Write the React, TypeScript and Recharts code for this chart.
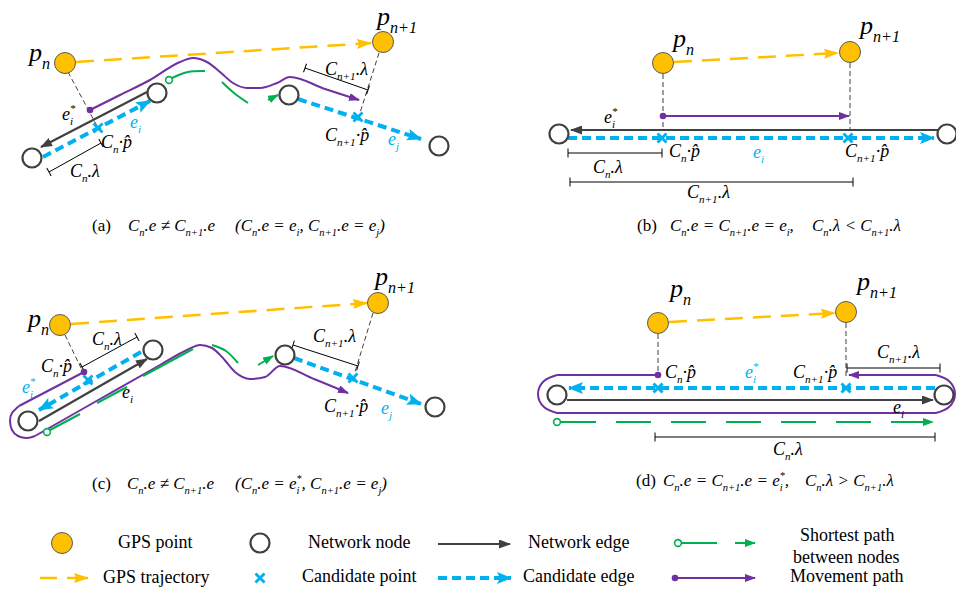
import React from "react";
import { ComposedChart, Line, Scatter, XAxis, YAxis } from "recharts";

type Pt = { x: number; y: number };
type Lbl = { x: number; y: number; text: string };

const W = 956;
const H = 593;
const FONT = '"Liberation Serif", "Times New Roman", serif';
const ORANGE = "#FFC000";
const BLUE = "#00B0F0";
const PURPLE = "#7030A0";
const GREEN = "#00B050";
const DARK = "#404040";

// ---- panel (a)
const gpsA: Pt[] = [{ x: 65, y: 63 }, { x: 383, y: 42 }];
const nodesA: Pt[] = [{ x: 32, y: 158 }, { x: 157, y: 93 }, { x: 289, y: 95 }, { x: 439, y: 146 }];
const candA: Pt[] = [{ x: 98, y: 128 }, { x: 358, y: 117 }];
const trajA: Pt[] = [{ x: 76, y: 62 }, { x: 371, y: 43 }];
const edgeA: Pt[] = [{ x: 147, y: 92 }, { x: 41, y: 147 }];
const candEdgeA1: Pt[] = [{ x: 43, y: 157 }, { x: 150, y: 101 }];
const candEdgeA2: Pt[] = [{ x: 298, y: 99 }, { x: 421, y: 139 }];
const moveA: Pt[] = [
  { x: 90, y: 110 }, { x: 120, y: 95 }, { x: 150, y: 80 }, { x: 180, y: 62 }, { x: 193, y: 58 },
  { x: 207, y: 62 }, { x: 220, y: 72 }, { x: 233, y: 83 }, { x: 247, y: 88 }, { x: 260, y: 88 },
  { x: 277, y: 83 }, { x: 290, y: 77 }, { x: 325, y: 89 }, { x: 359, y: 100 },
];
const dotA: Pt[] = [{ x: 90, y: 110 }];
const ringA: Pt[] = [{ x: 169, y: 80 }];
const shortA1: Pt[] = [{ x: 172, y: 78 }, { x: 188, y: 72 }, { x: 205, y: 71 }];
const shortA2: Pt[] = [{ x: 222, y: 82 }, { x: 234, y: 93 }, { x: 248, y: 103 }];
const shortA3: Pt[] = [{ x: 268, y: 100 }, { x: 278, y: 95 }];
const leadA1: Pt[] = [{ x: 68, y: 72 }, { x: 97, y: 126 }];
const leadA2: Pt[] = [{ x: 379, y: 53 }, { x: 359, y: 116 }];
const dimA1: Pt[] = [{ x: 49, y: 172 }, { x: 101, y: 143 }];
const dimA2: Pt[] = [{ x: 305, y: 68 }, { x: 368, y: 90 }];

// ---- panel (b)
const gpsB: Pt[] = [{ x: 663, y: 63 }, { x: 850, y: 52 }];
const nodesB: Pt[] = [{ x: 559, y: 134 }, { x: 947, y: 134 }];
const candB: Pt[] = [{ x: 662, y: 138 }, { x: 848, y: 138 }];
const trajB: Pt[] = [{ x: 674, y: 62 }, { x: 838, y: 53 }];
const edgeB: Pt[] = [{ x: 938, y: 130 }, { x: 571, y: 130 }];
const candEdgeB: Pt[] = [{ x: 568, y: 138 }, { x: 934, y: 138 }];
const moveB: Pt[] = [{ x: 663, y: 116 }, { x: 849, y: 116 }];
const dotB: Pt[] = [{ x: 663, y: 116 }];
const leadB1: Pt[] = [{ x: 663, y: 74 }, { x: 663, y: 131 }];
const leadB2: Pt[] = [{ x: 850, y: 63 }, { x: 850, y: 131 }];
const dimB1: Pt[] = [{ x: 568, y: 153 }, { x: 662, y: 153 }];
const dimB2: Pt[] = [{ x: 570, y: 182 }, { x: 853, y: 182 }];

// ---- panel (c)
const gpsC: Pt[] = [{ x: 60, y: 325 }, { x: 378, y: 303 }];
const nodesC: Pt[] = [{ x: 28, y: 421 }, { x: 153, y: 350 }, { x: 285, y: 355 }, { x: 435, y: 407 }];
const candC: Pt[] = [{ x: 88, y: 380 }, { x: 353, y: 378 }];
const trajC: Pt[] = [{ x: 71, y: 324 }, { x: 367, y: 303 }];
const edgeC: Pt[] = [{ x: 39, y: 421 }, { x: 147, y: 359 }];
const candEdgeC1: Pt[] = [{ x: 141, y: 352 }, { x: 39, y: 410 }];
const candEdgeC2: Pt[] = [{ x: 294, y: 358 }, { x: 421, y: 404 }];
const moveC1: Pt[] = [{ x: 84, y: 372 }, { x: 19, y: 406 }];
const moveC2: Pt[] = [
  { x: 19, y: 406 }, { x: 12, y: 413 }, { x: 10, y: 421 }, { x: 12, y: 430 },
  { x: 18, y: 436 }, { x: 27, y: 438 }, { x: 35, y: 436 },
];
const moveC3: Pt[] = [
  { x: 35, y: 436 }, { x: 100, y: 399 }, { x: 160, y: 365 }, { x: 187, y: 350 }, { x: 200, y: 345 },
  { x: 212, y: 348 }, { x: 222, y: 357 }, { x: 235, y: 372 }, { x: 250, y: 379 }, { x: 265, y: 377 },
  { x: 280, y: 366 }, { x: 314, y: 379 }, { x: 348, y: 393 },
];
const dotC: Pt[] = [{ x: 84, y: 372 }];
const ringC: Pt[] = [{ x: 47, y: 432 }];
const shortC1: Pt[] = [{ x: 50, y: 430 }, { x: 80, y: 414 }];
const shortC2: Pt[] = [{ x: 97, y: 403 }, { x: 127, y: 387 }];
const shortC3: Pt[] = [{ x: 143, y: 376 }, { x: 193, y: 349 }];
const shortC4: Pt[] = [{ x: 212, y: 345 }, { x: 226, y: 351 }, { x: 238, y: 363 }];
const shortC5: Pt[] = [{ x: 258, y: 365 }, { x: 273, y: 356 }];
const leadC1: Pt[] = [{ x: 65, y: 335 }, { x: 82, y: 370 }];
const leadC2: Pt[] = [{ x: 373, y: 313 }, { x: 355, y: 372 }];
const dimC1: Pt[] = [{ x: 82, y: 367 }, { x: 137, y: 337 }];
const dimC2: Pt[] = [{ x: 293, y: 345 }, { x: 358, y: 366 }];

// ---- panel (d)
const gpsD: Pt[] = [{ x: 658, y: 323 }, { x: 846, y: 312 }];
const nodesD: Pt[] = [{ x: 557, y: 395 }, { x: 944, y: 395 }];
const candD: Pt[] = [{ x: 658, y: 388 }, { x: 846, y: 388 }];
const trajD: Pt[] = [{ x: 669, y: 322 }, { x: 835, y: 313 }];
const edgeD: Pt[] = [{ x: 567, y: 400 }, { x: 933, y: 400 }];
const candEdgeD: Pt[] = [{ x: 935, y: 388 }, { x: 569, y: 388 }];
const moveD1: Pt[] = [{ x: 658, y: 375 }, { x: 557, y: 375 }];
const moveD2: Pt[] = [{ x: 557, y: 375 }, { x: 544, y: 381 }, { x: 538, y: 394 }, { x: 544, y: 407 }, { x: 557, y: 413 }];
const moveD3: Pt[] = [{ x: 557, y: 413 }, { x: 936, y: 413 }];
const moveD4: Pt[] = [{ x: 936, y: 413 }, { x: 949, y: 407 }, { x: 955, y: 394 }, { x: 949, y: 381 }, { x: 936, y: 375 }];
const moveD5: Pt[] = [{ x: 936, y: 375 }, { x: 849, y: 375 }];
const dotD: Pt[] = [{ x: 658, y: 375 }];
const ringD: Pt[] = [{ x: 557, y: 422 }];
const shortD: Pt[] = [{ x: 561, y: 422 }, { x: 933, y: 422 }];
const leadD1: Pt[] = [{ x: 658, y: 334 }, { x: 658, y: 372 }];
const leadD2: Pt[] = [{ x: 846, y: 323 }, { x: 846, y: 376 }];
const dimD1: Pt[] = [{ x: 847, y: 368 }, { x: 940, y: 368 }];
const dimD2: Pt[] = [{ x: 655, y: 437 }, { x: 935, y: 437 }];

// ---- legend marks
const legGps: Pt[] = [{ x: 62, y: 543 }];
const legNode: Pt[] = [{ x: 260, y: 543 }];
const legEdge: Pt[] = [{ x: 438, y: 544 }, { x: 510, y: 544 }];
const legRing: Pt[] = [{ x: 678, y: 543 }];
const legShort1: Pt[] = [{ x: 682, y: 543 }, { x: 717, y: 543 }];
const legShort2: Pt[] = [{ x: 735, y: 543 }, { x: 755, y: 543 }];
const legTraj1: Pt[] = [{ x: 40, y: 578 }, { x: 57, y: 578 }];
const legTraj2: Pt[] = [{ x: 67, y: 578 }, { x: 88, y: 578 }];
const legCand: Pt[] = [{ x: 260, y: 578 }];
const legCandEdge: Pt[] = [{ x: 438, y: 578 }, { x: 511, y: 578 }];
const legDot: Pt[] = [{ x: 675, y: 578 }];
const legMove: Pt[] = [{ x: 675, y: 578 }, { x: 755, y: 578 }];

// ---- texts
const pointLabels: Lbl[] = [
  { x: 29, y: 61, text: "p_{n}" }, { x: 377, y: 25, text: "p_{n+1}" },
  { x: 673, y: 47, text: "p_{n}" }, { x: 860, y: 34, text: "p_{n+1}" },
  { x: 28, y: 327, text: "p_{n}" }, { x: 375, y: 285, text: "p_{n+1}" },
  { x: 670, y: 297, text: "p_{n}" }, { x: 857, y: 290, text: "p_{n+1}" },
];
const blackLabels: Lbl[] = [
  { x: 62, y: 120, text: "e_{i}^{*}" }, { x: 101, y: 148, text: "C_{n}·p\u0302" },
  { x: 70, y: 177, text: "C_{n}.λ" }, { x: 325, y: 75, text: "C_{n+1}.λ" },
  { x: 325, y: 141, text: "C_{n+1}·p\u0302" },
  { x: 604, y: 123, text: "e_{i}^{*}" }, { x: 669, y: 157, text: "C_{n}·p\u0302" },
  { x: 845, y: 157, text: "C_{n+1}·p\u0302" }, { x: 593, y: 173, text: "C_{n}.λ" },
  { x: 687, y: 198, text: "C_{n+1}.λ" },
  { x: 92, y: 345, text: "C_{n}.λ" }, { x: 41, y: 372, text: "C_{n}·p\u0302" },
  { x: 122, y: 398, text: "e_{i}" }, { x: 313, y: 342, text: "C_{n+1}.λ" },
  { x: 324, y: 412, text: "C_{n+1}·p\u0302" },
  { x: 665, y: 378, text: "C_{n}·p\u0302" }, { x: 793, y: 378, text: "C_{n+1}·p\u0302" },
  { x: 877, y: 358, text: "C_{n+1}.λ" }, { x: 893, y: 413, text: "e_{i}" },
  { x: 773, y: 455, text: "C_{n}.λ" },
];
const blueLabels: Lbl[] = [
  { x: 130, y: 128, text: "e_{i}" }, { x: 388, y: 145, text: "e_{j}" },
  { x: 753, y: 158, text: "e_{i}" },
  { x: 22, y: 393, text: "e_{i}^{*}" }, { x: 381, y: 414, text: "e_{j}" },
  { x: 745, y: 378, text: "e_{i}^{*}" },
];
const captionTags: Lbl[] = [
  { x: 92, y: 231, text: "(a)" }, { x: 637, y: 231, text: "(b)" },
  { x: 92, y: 489, text: "(c)" }, { x: 636, y: 486, text: "(d)" },
];
const captionMath: Lbl[] = [
  { x: 128, y: 231, text: "C_{n}.e ≠ C_{n+1}.e" },
  { x: 235, y: 231, text: "(C_{n}.e = e_{i}, C_{n+1}.e = e_{j})" },
  { x: 670, y: 231, text: "C_{n}.e = C_{n+1}.e = e_{i}," },
  { x: 812, y: 231, text: "C_{n}.λ < C_{n+1}.λ" },
  { x: 127, y: 489, text: "C_{n}.e ≠ C_{n+1}.e" },
  { x: 235, y: 489, text: "(C_{n}.e = e_{i}^{*}, C_{n+1}.e = e_{j})" },
  { x: 663, y: 486, text: "C_{n}.e = C_{n+1}.e = e_{i}^{*}," },
  { x: 805, y: 486, text: "C_{n}.λ > C_{n+1}.λ" },
];
const legendLabels: Lbl[] = [
  { x: 118, y: 548, text: "GPS point" }, { x: 308, y: 548, text: "Network node" },
  { x: 528, y: 548, text: "Network edge" }, { x: 800, y: 541, text: "Shortest path" },
  { x: 793, y: 563, text: "between nodes" }, { x: 103, y: 583, text: "GPS trajectory" },
  { x: 302, y: 582, text: "Candidate point" }, { x: 523, y: 582, text: "Candidate edge" },
  { x: 790, y: 582, text: "Movement path" },
];

type Part = { t: string; k: "n" | "sub" | "sup" };

function parseMath(s: string): Part[] {
  const out: Part[] = [];
  let buf = "";
  for (let i = 0; i < s.length; i++) {
    const c = s[i];
    if ((c === "_" || c === "^") && s[i + 1] === "{") {
      if (buf) out.push({ t: buf, k: "n" });
      buf = "";
      const end = s.indexOf("}", i);
      out.push({ t: s.slice(i + 2, end), k: c === "_" ? "sub" : "sup" });
      i = end;
    } else buf += c;
  }
  if (buf) out.push({ t: buf, k: "n" });
  return out;
}

function MathText({ x, y, text, size, color, italic }: { x: number; y: number; text: string; size: number; color: string; italic: boolean }) {
  const parts = parseMath(text);
  let shift = 0;
  return (
    <text x={x} y={y} fontSize={size} fill={color} fontFamily={FONT} fontStyle={italic ? "italic" : "normal"} style={{ whiteSpace: "pre" }}>
      {parts.map((p, i) => {
        const target = p.k === "sub" ? size * 0.3 : p.k === "sup" ? -size * 0.42 : 0;
        const dy = target - shift;
        shift = target;
        const small = size * 0.62;
        const prev = parts[i - 1];
        const dx = p.k === "sup" && prev && prev.k === "sub" ? -prev.t.length * small * 0.3 : 0;
        return (
          <tspan key={i} dy={dy} dx={dx} fontSize={p.k === "n" ? size : small}>
            {p.t}
          </tspan>
        );
      })}
    </text>
  );
}

const seg = (key: string, data: Pt[], stroke: string, width: number, o: { dash?: string; end?: string; start?: string; type?: any } = {}) => (
  <Line
    key={key}
    data={data}
    dataKey="y"
    type={o.type ?? "linear"}
    stroke={stroke}
    strokeWidth={width}
    strokeDasharray={o.dash}
    markerEnd={o.end ? `url(#${o.end})` : undefined}
    markerStart={o.start ? `url(#${o.start})` : undefined}
    dot={false}
    activeDot={false}
    legendType="none"
    isAnimationActive={false}
  />
);

const marks = (key: string, data: any[], shape: (p: any) => React.ReactElement) => (
  <Scatter key={key} data={data} dataKey="y" shape={shape} legendType="none" isAnimationActive={false} />
);

const gpsShape = (p: any) => <circle cx={p.cx} cy={p.cy} r={10.5} fill={ORANGE} stroke="#595959" strokeWidth={1} />;
const nodeShape = (p: any) => <circle cx={p.cx} cy={p.cy} r={9.5} fill="#fff" stroke={DARK} strokeWidth={2.2} />;
const candShape = (p: any) => (
  <g stroke={BLUE} strokeWidth={2.8}>
    <line x1={p.cx - 4.5} y1={p.cy - 4.5} x2={p.cx + 4.5} y2={p.cy + 4.5} />
    <line x1={p.cx - 4.5} y1={p.cy + 4.5} x2={p.cx + 4.5} y2={p.cy - 4.5} />
  </g>
);
const dotShape = (p: any) => <circle cx={p.cx} cy={p.cy} r={3.3} fill={PURPLE} />;
const ringShape = (p: any) => <circle cx={p.cx} cy={p.cy} r={3.4} fill="#fff" stroke={GREEN} strokeWidth={1.6} />;
const textShape = (size: number, color: string, italic: boolean) => (p: any) => (
  <MathText x={p.cx} y={p.cy} text={p.payload.text} size={size} color={color} italic={italic} />
);

function Markers() {
  const head = (id: string, len: number, wid: number, fill: string, notch: number) => (
    <marker id={id} viewBox={`0 0 ${len} ${wid}`} refX={len - 1} refY={wid / 2} markerWidth={len} markerHeight={wid} markerUnits="userSpaceOnUse" orient="auto">
      <path d={`M0,0 L${len},${wid / 2} L0,${wid} L${notch},${wid / 2} z`} fill={fill} />
    </marker>
  );
  return (
    <svg width={0} height={0} style={{ position: "absolute" }}>
      <defs>
        {head("ahDark", 12, 9, DARK, 0)}
        {head("ahBlue", 15, 12, BLUE, 3)}
        {head("ahOrange", 15, 10, ORANGE, 2)}
        {head("ahPurple", 11, 8, PURPLE, 0)}
        {head("ahGreen", 11, 8, GREEN, 0)}
        <marker id="tick" viewBox="-1 -6 2 12" refX={0} refY={0} markerWidth={2} markerHeight={12} markerUnits="userSpaceOnUse" orient="auto">
          <path d="M0,-4.5 L0,4.5" stroke="#000" strokeWidth={1} />
        </marker>
      </defs>
    </svg>
  );
}

const TRAJ = "18 10";
const CAND = "9 5";
const LEAD = "5 3";

export default function App() {
  return (
    <div style={{ position: "absolute", left: 0, top: 0, width: W, height: H, background: "#fff" }}>
      <Markers />
      <ComposedChart width={W} height={H} margin={{ top: 0, right: 0, bottom: 0, left: 0 }}>
        <XAxis type="number" dataKey="x" domain={[0, W]} allowDataOverflow hide />
        <YAxis type="number" dataKey="y" domain={[0, H]} allowDataOverflow reversed hide />

        {/* panel (a) */}
        {seg("trajA", trajA, ORANGE, 2.5, { dash: TRAJ, end: "ahOrange" })}
        {seg("leadA1", leadA1, DARK, 1, { dash: LEAD })}
        {seg("leadA2", leadA2, DARK, 1, { dash: LEAD })}
        {seg("edgeA", edgeA, DARK, 2.2, { end: "ahDark" })}
        {seg("candEdgeA1", candEdgeA1, BLUE, 4, { dash: CAND, end: "ahBlue" })}
        {seg("candEdgeA2", candEdgeA2, BLUE, 4, { dash: CAND, end: "ahBlue" })}
        {seg("moveA", moveA, PURPLE, 2, { type: "monotoneX", end: "ahPurple" })}
        {seg("shortA1", shortA1, GREEN, 2, { type: "natural" })}
        {seg("shortA2", shortA2, GREEN, 2, { type: "natural" })}
        {seg("shortA3", shortA3, GREEN, 2, { end: "ahGreen" })}
        {seg("dimA1", dimA1, "#000", 1, { start: "tick", end: "tick" })}
        {seg("dimA2", dimA2, "#000", 1, { start: "tick", end: "tick" })}

        {/* panel (b) */}
        {seg("trajB", trajB, ORANGE, 2.5, { dash: TRAJ, end: "ahOrange" })}
        {seg("leadB1", leadB1, DARK, 1, { dash: LEAD })}
        {seg("leadB2", leadB2, DARK, 1, { dash: LEAD })}
        {seg("edgeB", edgeB, DARK, 2.2, { end: "ahDark" })}
        {seg("candEdgeB", candEdgeB, BLUE, 4, { dash: CAND, end: "ahBlue" })}
        {seg("moveB", moveB, PURPLE, 2, { end: "ahPurple" })}
        {seg("dimB1", dimB1, "#000", 1, { start: "tick", end: "tick" })}
        {seg("dimB2", dimB2, "#000", 1, { start: "tick", end: "tick" })}

        {/* panel (c) */}
        {seg("trajC", trajC, ORANGE, 2.5, { dash: TRAJ, end: "ahOrange" })}
        {seg("leadC1", leadC1, DARK, 1, { dash: LEAD })}
        {seg("leadC2", leadC2, DARK, 1, { dash: LEAD })}
        {seg("edgeC", edgeC, DARK, 2.2, { end: "ahDark" })}
        {seg("candEdgeC1", candEdgeC1, BLUE, 4, { dash: CAND, end: "ahBlue" })}
        {seg("candEdgeC2", candEdgeC2, BLUE, 4, { dash: CAND, end: "ahBlue" })}
        {seg("moveC1", moveC1, PURPLE, 2)}
        {seg("moveC2", moveC2, PURPLE, 2, { type: "natural" })}
        {seg("moveC3", moveC3, PURPLE, 2, { type: "monotoneX", end: "ahPurple" })}
        {seg("shortC1", shortC1, GREEN, 2)}
        {seg("shortC2", shortC2, GREEN, 2)}
        {seg("shortC3", shortC3, GREEN, 2)}
        {seg("shortC4", shortC4, GREEN, 2, { type: "natural" })}
        {seg("shortC5", shortC5, GREEN, 2, { end: "ahGreen" })}
        {seg("dimC1", dimC1, "#000", 1, { start: "tick", end: "tick" })}
        {seg("dimC2", dimC2, "#000", 1, { start: "tick", end: "tick" })}

        {/* panel (d) */}
        {seg("trajD", trajD, ORANGE, 2.5, { dash: TRAJ, end: "ahOrange" })}
        {seg("leadD1", leadD1, DARK, 1, { dash: LEAD })}
        {seg("leadD2", leadD2, DARK, 1, { dash: LEAD })}
        {seg("edgeD", edgeD, DARK, 2.2, { end: "ahDark" })}
        {seg("candEdgeD", candEdgeD, BLUE, 4, { dash: CAND, end: "ahBlue" })}
        {seg("moveD1", moveD1, PURPLE, 2)}
        {seg("moveD2", moveD2, PURPLE, 2, { type: "natural" })}
        {seg("moveD3", moveD3, PURPLE, 2)}
        {seg("moveD4", moveD4, PURPLE, 2, { type: "natural" })}
        {seg("moveD5", moveD5, PURPLE, 2, { end: "ahPurple" })}
        {seg("shortD", shortD, GREEN, 2, { dash: "35 20", end: "ahGreen" })}
        {seg("dimD1", dimD1, "#000", 1, { start: "tick", end: "tick" })}
        {seg("dimD2", dimD2, "#000", 1, { start: "tick", end: "tick" })}

        {/* legend lines */}
        {seg("legEdge", legEdge, DARK, 2.2, { end: "ahDark" })}
        {seg("legShort1", legShort1, GREEN, 2)}
        {seg("legShort2", legShort2, GREEN, 2, { end: "ahGreen" })}
        {seg("legTraj1", legTraj1, ORANGE, 2.5)}
        {seg("legTraj2", legTraj2, ORANGE, 2.5, { end: "ahOrange" })}
        {seg("legCandEdge", legCandEdge, BLUE, 4, { dash: CAND, end: "ahBlue" })}
        {seg("legMove", legMove, PURPLE, 2, { end: "ahPurple" })}

        {/* points */}
        {marks("nodes", [...nodesA, ...nodesB, ...nodesC, ...nodesD, ...legNode], nodeShape)}
        {marks("gps", [...gpsA, ...gpsB, ...gpsC, ...gpsD, ...legGps], gpsShape)}
        {marks("cand", [...candA, ...candB, ...candC, ...candD, ...legCand], candShape)}
        {marks("dots", [...dotA, ...dotB, ...dotC, ...dotD, ...legDot], dotShape)}
        {marks("rings", [...ringA, ...ringC, ...ringD, ...legRing], ringShape)}

        {/* texts */}
        {marks("pointLabels", pointLabels, textShape(26, "#000", true))}
        {marks("blackLabels", blackLabels, textShape(18, "#000", true))}
        {marks("blueLabels", blueLabels, textShape(18, BLUE, true))}
        {marks("captionTags", captionTags, textShape(17, "#000", false))}
        {marks("captionMath", captionMath, textShape(17, "#000", true))}
        {marks("legendLabels", legendLabels, textShape(18, "#000", false))}
      </ComposedChart>
    </div>
  );
}
